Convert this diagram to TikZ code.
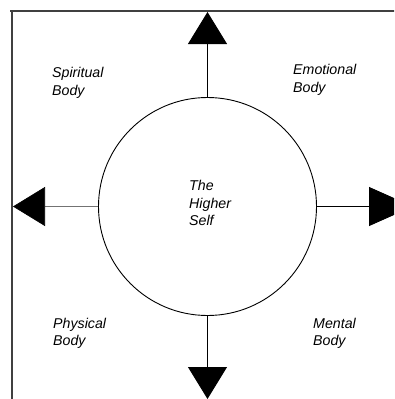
\documentclass[tikz,border=0pt]{standalone}
\usepackage{fontspec}
\setmainfont{Liberation Sans}
\usetikzlibrary{arrows.meta}
\begin{document}
\begin{tikzpicture}[x=1pt,y=-1pt,
  lbl/.style={anchor=north west,inner sep=0pt,align=left,font=\fontsize{14.2}{17.3}\selectfont\itshape},
  conn/.style={line width=0.9pt,-{Triangle[length=32pt,width=39pt,color=black]}},
  connlong/.style={line width=0.9pt,-{Triangle[length=44pt,width=39pt,color=black]}},
  frame/.style={line width=1.2pt,black!75}]
\useasboundingbox (0,0) rectangle (394,399);
\clip (0,0) rectangle (394,399);
% frame
\draw[frame] (400,11) -- (10,11);
\draw[frame] (12,11) -- (12,405);
% centre circle
\node[circle,draw,line width=0.9pt,minimum size=218pt,inner sep=0pt] (c) at (207.5,206.5) {};
\node[lbl] (self) at (189,180.5) {The\\Higher\\Self};
% arrow ends
\coordinate (up) at (207.5,12);
\coordinate (down) at (207.5,399);
\coordinate (left) at (13,206.5);
\coordinate (right) at (413,206.5);
\draw[conn] (c.north) -- (up);
\draw[conn] (c.south) -- (down);
\draw[conn,draw=black!55,line width=0.6pt] (c.west) -- (left);
\draw[connlong] (c.east) -- (right);
% labels
\node[lbl] (spiritual) at (52,67.5) {Spiritual\\Body};
\node[lbl] (emotional) at (293,64.5) {Emotional\\Body};
\node[lbl] (physical) at (53,318) {Physical\\Body};
\node[lbl] (mental) at (313,318) {Mental\\Body};
\end{tikzpicture}
\end{document}
